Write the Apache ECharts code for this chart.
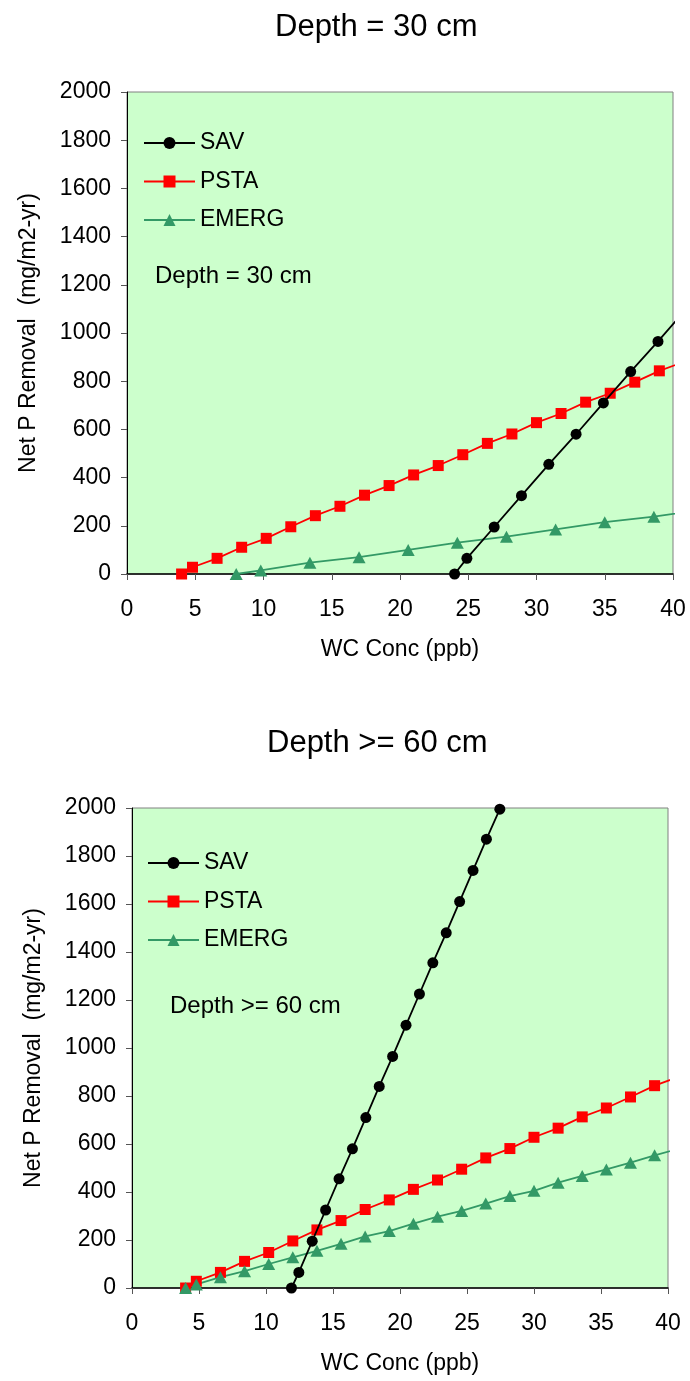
<!DOCTYPE html>
<html>
<head>
<meta charset="utf-8">
<script src="https://cdn.jsdelivr.net/npm/echarts@6/dist/echarts.min.js"></script>
<style>
html,body{margin:0;padding:0;background:#fff;}
#chart{width:690px;height:1381px;}
</style>
</head>
<body>
<div id="chart"></div>
<script>
// ---- Data ----
const seriesNames = ['SAV', 'PSTA', 'EMERG'];
const xTicks = [0, 5, 10, 15, 20, 25, 30, 35, 40];
const yTicks = [0, 200, 400, 600, 800, 1000, 1200, 1400, 1600, 1800, 2000];

// Top panel: Depth = 30 cm
const topSavX   = [24, 24.9, 26.9, 28.9, 30.9, 32.9, 34.9, 36.9, 38.9, 40.9];
const topSavY   = [0, 65, 195, 325, 455, 580, 710, 840, 965, 1095];
const topPstaX  = [4, 4.8, 6.6, 8.4, 10.2, 12, 13.8, 15.6, 17.4, 19.2, 21, 22.8, 24.6, 26.4, 28.2, 30, 31.8, 33.6, 35.4, 37.2, 39, 40.8];
const topPstaY  = [0, 28, 65, 111, 148, 196, 242, 281, 327, 367, 411, 450, 495, 542, 581, 628, 666, 713, 750, 796, 843, 880];
const topEmergX = [8, 9.8, 13.4, 17, 20.6, 24.2, 27.8, 31.4, 35, 38.6, 42.2];
const topEmergY = [0, 15, 47, 70, 100, 130, 155, 185, 215, 238, 268];

// Bottom panel: Depth >= 60 cm
const botSavX   = [11.9, 12.45, 13.45, 14.45, 15.45, 16.45, 17.45, 18.45, 19.45, 20.45, 21.45, 22.45, 23.45, 24.45, 25.45, 26.45, 27.45, 28.45];
const botSavY   = [0, 65, 195, 325, 455, 580, 710, 840, 965, 1095, 1225, 1355, 1480, 1610, 1740, 1870, 1995, 2125];
const botPstaX  = [4, 4.8, 6.6, 8.4, 10.2, 12, 13.8, 15.6, 17.4, 19.2, 21, 22.8, 24.6, 26.4, 28.2, 30, 31.8, 33.6, 35.4, 37.2, 39, 40.8];
const botPstaY  = [0, 28, 65, 111, 148, 196, 242, 281, 327, 367, 411, 450, 495, 542, 581, 628, 666, 713, 750, 796, 843, 880];
const botEmergX = [4, 4.8, 6.6, 8.4, 10.2, 12, 13.8, 15.6, 17.4, 19.2, 21, 22.8, 24.6, 26.4, 28.2, 30, 31.8, 33.6, 35.4, 37.2, 39, 40.8];
const botEmergY = [0, 15, 45, 70, 100, 128, 155, 184, 215, 237, 268, 297, 321, 352, 383, 405, 439, 467, 494, 522, 553, 580];

const titles = ['Depth = 30 cm', 'Depth >= 60 cm'];
const notes = ['Depth = 30 cm', 'Depth >= 60 cm'];
const xName = 'WC Conc (ppb)';
const yName = 'Net P Removal  (mg/m2-yr)';

// ---- Build ----
const FONT = '"Liberation Sans", Arial, sans-serif';
const zip = (xs, ys) => xs.map((x, i) => [x, ys[i]]);
const colors = { SAV: '#000000', PSTA: '#FF0000', EMERG: '#339966' };
const symbols = { SAV: 'circle', PSTA: 'rect', EMERG: 'triangle' };
const sizes = { SAV: 11, PSTA: 11, EMERG: [13, 12] };

function mkSeries(name, data, idx) {
  return {
    name: name, type: 'line', xAxisIndex: idx, yAxisIndex: idx,
    data: data, symbol: symbols[name],
    symbolSize: function (v) { return v[0] > 40 ? 0 : sizes[name]; },
    showAllSymbol: true, clip: true, animation: false,
    lineStyle: { color: colors[name], width: 1.8 },
    itemStyle: { color: colors[name] },
    z: name === 'SAV' ? 3 : 2
  };
}

function mkX(idx) {
  return {
    gridIndex: idx, type: 'value', min: 0, max: 40, interval: 5,
    name: xName, nameLocation: 'middle', nameGap: 64,
    nameTextStyle: { fontFamily: FONT, fontSize: 23, color: '#000' },
    axisLine: { show: true, onZero: false, lineStyle: { color: '#000', width: 1.5 } },
    axisTick: { show: true, inside: false, length: 6, lineStyle: { color: '#555' } },
    axisLabel: { fontFamily: FONT, fontSize: 23, color: '#000', margin: 24,
      formatter: function (v) { return xTicks.indexOf(v) >= 0 ? String(v) : ''; } },
    splitLine: { show: false }
  };
}
function mkY(idx) {
  return {
    gridIndex: idx, type: 'value', min: 0, max: 2000, interval: 200,
    name: yName, nameLocation: 'middle', nameGap: 87, nameRotate: 90,
    nameTextStyle: { fontFamily: FONT, fontSize: 23, color: '#000' },
    axisLine: { show: true, onZero: false, lineStyle: { color: '#000', width: 1 } },
    axisTick: { show: true, inside: false, length: 6, lineStyle: { color: '#555' } },
    axisLabel: { fontFamily: FONT, fontSize: 23, color: '#000', margin: 16,
      formatter: function (v) { return yTicks.indexOf(v) >= 0 ? String(v) : ''; } },
    splitLine: { show: false }
  };
}
function mkLegend(left, top) {
  return {
    orient: 'vertical', left: left, top: top, data: seriesNames, padding: 0,
    itemWidth: 51, itemHeight: 15, itemGap: 14.5,
    textStyle: { fontFamily: FONT, fontSize: 23, color: '#000', lineHeight: 24 },
    selectedMode: false
  };
}

const option = {
  backgroundColor: '#ffffff',
  animation: false,
  title: [
    { text: titles[0], left: 270, top: 7, textStyle: { fontFamily: FONT, fontSize: 31, fontWeight: 'normal', color: '#000' } },
    { text: titles[1], left: 262, top: 723, textStyle: { fontFamily: FONT, fontSize: 31, fontWeight: 'normal', color: '#000' } }
  ],
  grid: [
    { left: 127, top: 92, width: 546, height: 482, show: true, backgroundColor: '#CCFFCC', borderColor: '#808080', borderWidth: 1 },
    { left: 132, top: 808, width: 536, height: 480, show: true, backgroundColor: '#CCFFCC', borderColor: '#808080', borderWidth: 1 }
  ],
  xAxis: [mkX(0), mkX(1)],
  yAxis: [mkY(0), mkY(1)],
  legend: [mkLegend(143, 131), mkLegend(147, 851)],
  graphic: [
    { type: 'text', left: 155, top: 264, style: { text: notes[0], font: '24px ' + FONT, fill: '#000' } },
    { type: 'text', left: 170, top: 994, style: { text: notes[1], font: '24px ' + FONT, fill: '#000' } }
  ],
  series: [
    mkSeries('SAV', zip(topSavX, topSavY), 0),
    mkSeries('PSTA', zip(topPstaX, topPstaY), 0),
    mkSeries('EMERG', zip(topEmergX, topEmergY), 0),
    mkSeries('SAV', zip(botSavX, botSavY), 1),
    mkSeries('PSTA', zip(botPstaX, botPstaY), 1),
    mkSeries('EMERG', zip(botEmergX, botEmergY), 1)
  ]
};

const chart = echarts.init(document.getElementById('chart'), null, { renderer: 'canvas' });
chart.setOption(option);
</script>
</body>
</html>
